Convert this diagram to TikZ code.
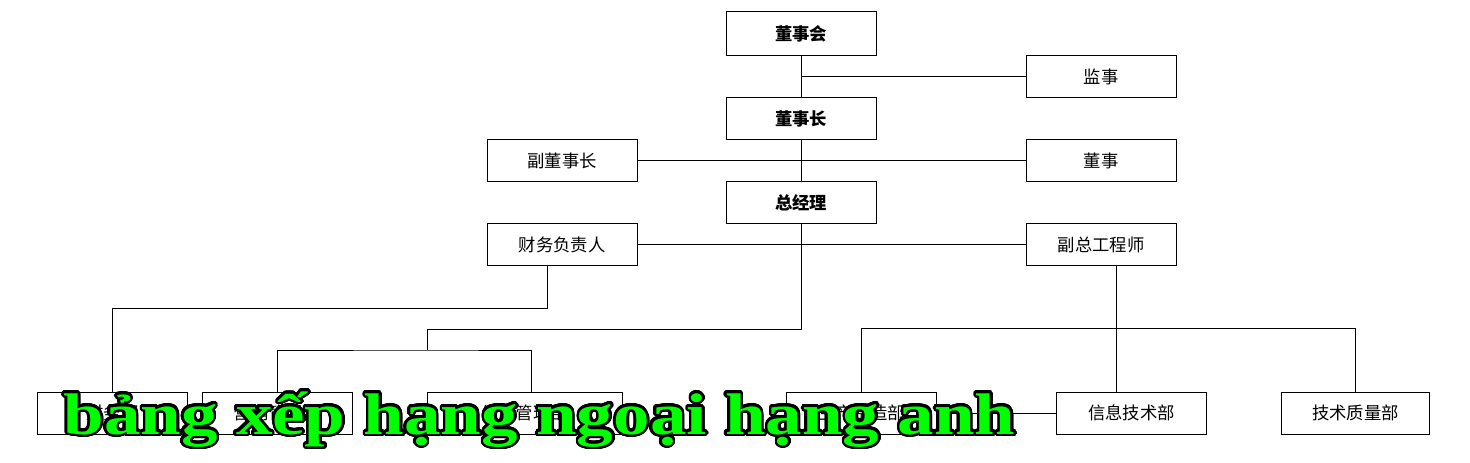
\documentclass[tikz,border=0pt]{standalone}
\usepackage{fontspec}
\usepackage{contour}
\newfontfamily\cjk{Noto Sans CJK SC}
\newfontfamily\titlefont[FakeStretch=1.245]{Liberation Serif}
\definecolor{titlegreen}{RGB}{0,255,0}
\contourlength{1.9pt}
\contournumber{32}

\begin{document}
\begin{tikzpicture}[x=0.75pt, y=-0.75pt, line width=0.75pt,
  unit/.style={rectangle, draw, fill=white, minimum width=112.5pt, minimum height=31.5pt, inner sep=0pt, font=\cjk\fontsize{13pt}{15pt}\selectfont},
  head/.style={unit, font=\cjk\bfseries\fontsize{13pt}{15pt}\selectfont}]
\useasboundingbox (0,0) rectangle (1470,463);

\node[head, minimum height=33pt] (board) at (801,34) {董事会};
\node[unit] (supv) at (1101,77) {监事};
\node[head] (chair) at (801,119) {董事长};
\node[unit] (vchair) at (562,161) {副董事长};
\node[unit] (director) at (1101,161) {董事};
\node[head] (gm) at (801,203) {总经理};
\node[unit] (cfo) at (562,245) {财务负责人};
\node[unit] (vce) at (1101,245) {副总工程师};

    \draw (board.south) -- (chair.north);
    \draw (board.south |- supv.west) -- (supv.west);
    \draw (chair.south) -- (gm.north);
    \draw (vchair.east) -- (director.west);
    \draw (cfo.east) -- (vce.west);

\node[unit] (fin) at (112.5,413) {财务部};
\node[unit] (sales) at (277,413) {营销管理部};
\node[unit, minimum width=146.25pt] (prod) at (524.5,413) {生产管理部};
\node[unit] (mfg) at (861.5,413) {生产制造部};
\node[unit] (it) at (1131.5,413) {信息技术部};
\node[unit, minimum width=111pt] (qa) at (1355.5,413) {技术质量部};

    \draw ([xshift=-11.25pt]cfo.south) -- ++(0,42) -| (fin.north);
    \coordinate (gmjoin) at (427,350);
    \draw (gm.south) -- ++(0,105) -| (gmjoin);
    \draw (sales.north) |- (gmjoin) -| ([xshift=5.6pt]prod.north);
    \draw ([xshift=11.25pt]vce.south) -- ([xshift=11.25pt]vce.south |- it.north);
    \draw (mfg.north) -- ++(0,-63) -| (qa.north);
    \draw (mfg.east) -- (it.west);

\node[anchor=base west, inner sep=0pt, font=\titlefont\bfseries\fontsize{44pt}{50pt}\selectfont, text=titlegreen] (banner) at (63,434) {\contour{black}{bảng xếp hạng ngoại hạng anh}};
\end{tikzpicture}
\end{document}
